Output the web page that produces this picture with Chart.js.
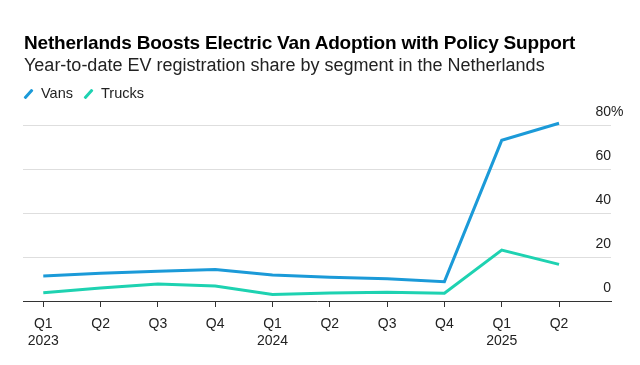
<!DOCTYPE html>
<html>
<head>
<meta charset="utf-8">
<script src="https://cdn.jsdelivr.net/npm/chart.js@4.4.0/dist/chart.umd.min.js"></script>
<style>
    html, body { margin: 0; padding: 0; background: #fff; }
    body { width: 640px; height: 365px; position: relative; overflow: hidden; font-family: "Liberation Sans", Arial, sans-serif; }
    #chart { position: absolute; left: 0; top: 0; }
    .head { position: absolute; left: 24px; top: 31px; z-index: 2; }
    .title { font-size: 19px; font-weight: 700; color: #000; line-height: 23px; letter-spacing: -0.2px; }
    .subtitle { font-size: 18px; color: #222; line-height: 22px; margin-top: 0; letter-spacing: 0; }
    .legend { position: absolute; left: 24px; top: 85px; font-size: 14.5px; color: #222; z-index: 2; }
    .legend span.item { display: inline-block; margin-right: 7px; }
    .legend i { display: inline-block; width: 3px; height: 12px; border-radius: 1px; transform: rotate(42deg); margin: 0 11px 0 3px; vertical-align: -2px; }
</style>
</head>
<body>
<div class="head">
    <div class="title">Netherlands Boosts Electric Van Adoption with Policy Support</div>
    <div class="subtitle">Year-to-date EV registration share by segment in the Netherlands</div>
</div>
<div class="legend">
    <span class="item"><i style="background:#1b9ad8"></i>Vans</span>
    <span class="item"><i style="background:#1ed2b1"></i>Trucks</span>
</div>
<canvas id="chart" width="640" height="365"></canvas>
<script>
// Data
const quarters = ['Q1', 'Q2', 'Q3', 'Q4', 'Q1', 'Q2', 'Q3', 'Q4', 'Q1', 'Q2'];
const years = ['2023', '', '', '', '2024', '', '', '', '2025', ''];
const vans = [11.4, 12.6, 13.6, 14.4, 11.8, 10.8, 10.1, 8.8, 73.2, 81.0];
const trucks = [3.8, 5.9, 7.7, 6.8, 3.0, 3.6, 4.0, 3.5, 23.2, 16.7];
const yTicks = [0, 20, 40, 60, 80];

const VAN_COLOR = '#1b9ad8';
const TRUCK_COLOR = '#1ed2b1';

// y tick labels sit above their gridline, right-aligned, with % hanging off the top one
const yLabelsPlugin = {
    id: 'yLabels',
    afterDraw(chart) {
        const ctx = chart.ctx;
        const y = chart.scales.y;
        const right = chart.chartArea.right;
        ctx.save();
        ctx.font = '14px "Liberation Sans", Arial, sans-serif';
        ctx.fillStyle = '#222';
        ctx.textBaseline = 'middle';
        yTicks.forEach(v => {
            const py = y.getPixelForValue(v) - 13;
            ctx.textAlign = 'right';
            ctx.fillText(String(v), right, py);
            if (v === yTicks[yTicks.length - 1]) {
                ctx.textAlign = 'left';
                ctx.fillText('%', right, py);
            }
        });
        ctx.restore();
    }
};

const points = arr => arr.map((v, i) => ({ x: i, y: v }));

new Chart(document.getElementById('chart'), {
    type: 'line',
    data: {
        datasets: [
            {
                label: 'Trucks',
                data: points(trucks),
                borderColor: TRUCK_COLOR,
                borderWidth: 3,
                pointRadius: 0,
                tension: 0
            },
            {
                label: 'Vans',
                data: points(vans),
                borderColor: VAN_COLOR,
                borderWidth: 3,
                pointRadius: 0,
                tension: 0
            }
        ]
    },
    options: {
        responsive: false,
        animation: false,
        layout: {
            padding: { left: 23, right: 29, top: 121, bottom: 0 }
        },
        plugins: {
            legend: { display: false },
            tooltip: { enabled: false }
        },
        scales: {
            x: {
                type: 'linear',
                min: -0.354,
                max: 9.907,
                afterBuildTicks: scale => {
                    scale.ticks = quarters.map((q, i) => ({ value: i }));
                },
                afterFit: scale => { scale.height = 64; },
                grid: {
                    drawOnChartArea: false,
                    drawTicks: true,
                    tickLength: 6,
                    tickColor: '#333',
                    tickWidth: 1
                },
                border: { display: true, color: '#333', width: 1 },
                ticks: {
                    color: '#222',
                    padding: 9,
                    maxRotation: 0,
                    autoSkip: false,
                    font: { family: '"Liberation Sans", Arial, sans-serif', size: 14, lineHeight: 1.2 },
                    callback: (value) => {
                        const i = Math.round(value);
                        return years[i] ? [quarters[i], years[i]] : quarters[i];
                    }
                }
            },
            y: {
                min: 0,
                max: 82,
                afterBuildTicks: scale => {
                    scale.ticks = yTicks.map(v => ({ value: v }));
                },
                afterFit: scale => { scale.width = 0; },
                grid: {
                    color: ctx => ctx.tick && ctx.tick.value === 0 ? 'rgba(0,0,0,0)' : '#dedede',
                    lineWidth: 1,
                    drawTicks: false
                },
                border: { display: false },
                ticks: { display: false }
            }
        }
    },
    plugins: [yLabelsPlugin]
});
</script>
</body>
</html>
